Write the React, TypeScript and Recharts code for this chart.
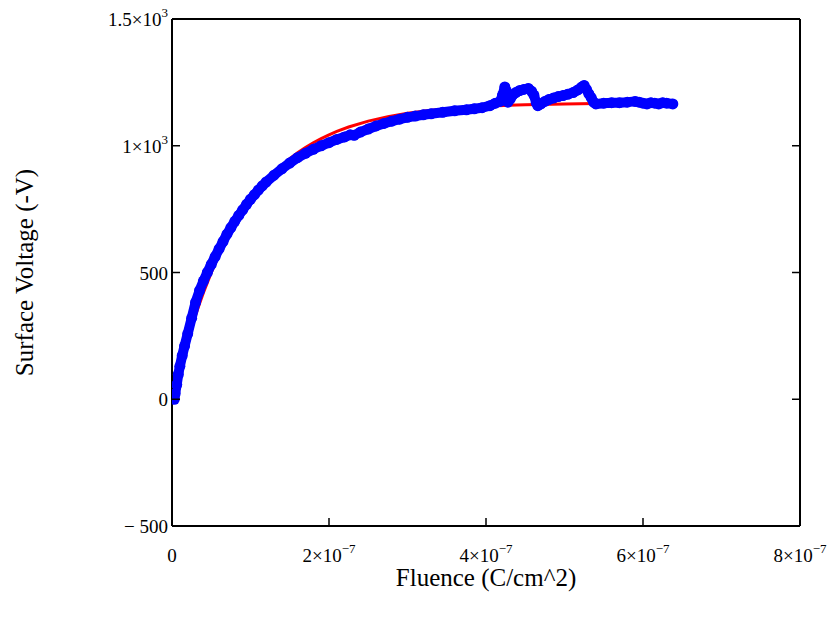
import React from 'react';
import { ComposedChart, Line, XAxis, YAxis, ReferenceLine } from 'recharts';

const FONT = "'Liberation Serif', 'Times New Roman', Times, serif";

// Fluence in units of 1e-7 C/cm^2, voltage in -V
const fitFluence = [0,0.05,0.1,0.15,0.2,0.25,0.3,0.35,0.4,0.45,0.5,0.55,0.6,0.65,0.7,0.75,0.8,0.85,0.9,1.0,1.1,1.2,1.3,1.4,1.5,1.6,1.7,1.8,1.9,2.0,2.1,2.25,2.5,2.75,3.0,3.25,3.5,3.75,4.0,4.5,5.0,5.4];
const fitVoltage = [0,63,123,180,233,284,331,377,420,460,499,535,570,602,633,662,689,715,740,785,825,861,894,923,949,972,993,1012,1028,1043,1057,1074,1097,1115,1128,1138,1146,1152,1156,1162,1165,1167];

const measFluence = [0.03,0.04,0.06,0.08,0.1,0.13,0.16,0.2,0.25,0.3,0.35,0.4,0.45,0.5,0.55,0.6,0.65,0.7,0.75,0.8,0.85,0.9,0.95,1.0,1.05,1.1,1.15,1.2,1.3,1.4,1.5,1.6,1.7,1.8,1.9,2.0,2.1,2.2,2.27,2.32,2.4,2.5,2.6,2.7,2.8,2.9,3.0,3.1,3.2,3.3,3.45,3.6,3.75,3.85,3.95,4.05,4.12,4.18,4.21,4.24,4.26,4.28,4.31,4.34,4.38,4.43,4.48,4.54,4.58,4.61,4.64,4.66,4.7,4.75,4.8,4.86,4.92,4.98,5.04,5.11,5.17,5.22,5.25,5.28,5.31,5.34,5.37,5.4,5.5,5.6,5.7,5.8,5.9,5.95,6.0,6.05,6.1,6.15,6.2,6.25,6.3,6.38];
const measVoltage = [0,22,58,98,130,172,210,258,320,382,428,466,500,532,563,593,622,651,677,702,725,747,769,789,807,825,842,857,884,909,932,953,970,986,1000,1012,1025,1035,1043,1041,1054,1066,1078,1088,1097,1105,1112,1117,1122,1126,1132,1138,1142,1146,1150,1158,1168,1175,1200,1232,1215,1172,1185,1200,1210,1218,1222,1226,1215,1200,1170,1158,1165,1175,1182,1188,1194,1198,1203,1210,1220,1232,1238,1222,1205,1190,1172,1165,1168,1170,1170,1172,1175,1172,1168,1165,1170,1168,1165,1170,1168,1165];

const xTicks = [0, 2, 4, 6, 8];
const xTickBase = ['0', '2×10', '4×10', '6×10', '8×10'];
const xTickExp = ['', '−7', '−7', '−7', '−7'];

const yTicks = [-500, 0, 500, 1000, 1500];
const yTickBase = ['− 500', '0', '500', '1×10', '1.5×10'];
const yTickExp = ['', '', '', '3', '3'];
const rightTicks = [0, 500, 1000];

const xTitle = 'Fluence (C/cm^2)';
const yTitle = 'Surface Voltage (-V)';

const fitData = fitFluence.map((f, i) => ({ f, v: fitVoltage[i] }));
const measData = measFluence.map((f, i) => ({ f, v: measVoltage[i] }));

const XTick = (props: any) => {
  const { x, y, payload } = props;
  const i = xTicks.indexOf(payload.value);
  return (
    <g>
      <line x1={x} x2={x} y1={y} y2={y - 8} stroke="#000" strokeWidth={1.5} />
      <text x={x} y={y + 36} textAnchor="middle" style={{ fontFamily: FONT }} fontSize={19} fill="#000">
        {xTickBase[i]}
        {xTickExp[i] ? <tspan dy={-9} fontSize={13}>{xTickExp[i]}</tspan> : null}
      </text>
    </g>
  );
};

const YTick = (props: any) => {
  const { x, y, payload } = props;
  const i = yTicks.indexOf(payload.value);
  return (
    <g>
      <line x1={x} x2={x + 8} y1={y} y2={y} stroke="#000" strokeWidth={1.5} />
      <text x={x - 4} y={y + 7} textAnchor="end" style={{ fontFamily: FONT }} fontSize={19} fill="#000">
        {yTickBase[i]}
        {yTickExp[i] ? <tspan dy={-9} fontSize={13}>{yTickExp[i]}</tspan> : null}
      </text>
    </g>
  );
};

const RightTickShape = (props: any) => {
  const { x1, x2, y1, y2 } = props;
  const xr = Math.max(x1, x2);
  return <line x1={xr - 8} x2={xr} y1={y1} y2={y2} stroke="#000" strokeWidth={1.5} />;
};

const XTitle = (props: any) => {
  const vb = props.viewBox;
  return (
    <text x={vb.x + vb.width / 2} y={vb.y + 60} textAnchor="middle" style={{ fontFamily: FONT }} fontSize={25} fill="#000">
      {xTitle}
    </text>
  );
};

const YTitle = (props: any) => {
  const vb = props.viewBox;
  const cx = vb.x + 33;
  const cy = vb.y + vb.height / 2;
  return (
    <text x={cx} y={cy} transform={`rotate(-90, ${cx}, ${cy})`} textAnchor="middle" style={{ fontFamily: FONT }} fontSize={25} fill="#000">
      {yTitle}
    </text>
  );
};

export default function App() {
  return (
    <div style={{ position: 'absolute', left: 0, top: 0 }}>
      <ComposedChart width={835} height={626} margin={{ top: 19, right: 35, bottom: 0, left: 0 }}>
        <XAxis
          type="number"
          dataKey="f"
          domain={[0, 8]}
          ticks={xTicks}
          allowDataOverflow
          orientation="bottom"
          height={100}
          tickSize={0}
          tickMargin={0}
          tickLine={false}
          tick={<XTick />}
          axisLine={{ stroke: '#000', strokeWidth: 2 }}
          label={(p: any) => <XTitle {...p} />}
        />
        <YAxis
          type="number"
          domain={[-500, 1500]}
          ticks={yTicks}
          allowDataOverflow
          width={172}
          tickSize={0}
          tickMargin={0}
          tickLine={false}
          tick={<YTick />}
          axisLine={{ stroke: '#000', strokeWidth: 2 }}
          label={(p: any) => <YTitle {...p} />}
        />
        <ReferenceLine y={1500} stroke="#000" strokeWidth={2} ifOverflow="visible" />
        <ReferenceLine x={8} stroke="#000" strokeWidth={2} ifOverflow="visible" />
        {rightTicks.map((t) => (
          <ReferenceLine key={t} y={t} ifOverflow="visible" shape={(p: any) => <RightTickShape {...p} />} />
        ))}
        <Line
          data={fitData}
          dataKey="v"
          type="linear"
          stroke="#ff0000"
          strokeWidth={3}
          dot={false}
          activeDot={false}
          isAnimationActive={false}
        />
        <Line
          data={measData}
          dataKey="v"
          type="linear"
          stroke="#0000ff"
          strokeWidth={10}
          strokeLinejoin="round"
          dot={{ r: 5.5, fill: '#0000ff', stroke: 'none' }}
          activeDot={false}
          isAnimationActive={false}
        />
      </ComposedChart>
    </div>
  );
}
